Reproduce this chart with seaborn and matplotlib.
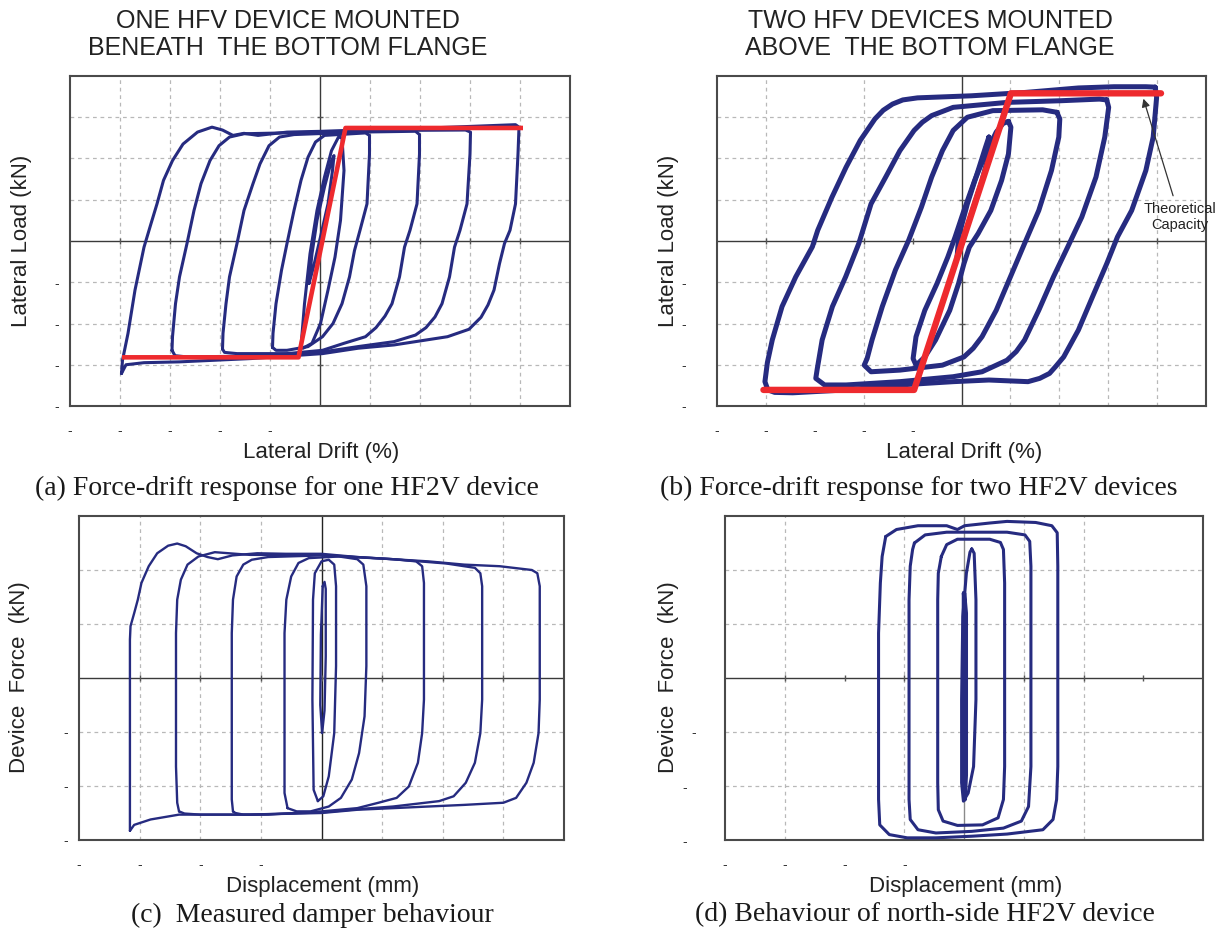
import matplotlib
matplotlib.use("Agg")
import matplotlib.pyplot as plt
import pandas as pd
import seaborn as sns

sns.set_theme(style="white")
plt.rcParams["font.family"] = ["Liberation Sans", "DejaVu Sans"]

NAVY = "#262b80"
RED = "#ee2a2e"
FRAME = "#4a4a4a"
GRID = "#b8b8b8"

# ---------------------------------------------------------------
# (a) one HF2V device: drift (%) vs lateral load (kN), per cycle
# ---------------------------------------------------------------
a_cycle4_x = [-3.97, -3.95, -3.84, -3.70, -3.52, -3.38, -3.26, -3.13, -2.95, -2.74, -2.45, -2.16, -1.95,
              -1.74, -1.52, -1.24, -0.66, 0.05, 0.76, 2.19, 3.91, 3.98, 3.96, 3.91, 3.80, 3.69, 3.59, 3.48,
              3.36, 3.22, 2.98, 2.55, 1.48, 0.76, 0.05, -1.38, -2.81, -3.52, -3.88, -3.97]
a_cycle4_y = [-3.21, -2.89, -2.24, -1.19, -0.15, 0.42, 0.90, 1.47, 1.95, 2.35, 2.64, 2.76, 2.69,
              2.56, 2.61, 2.56, 2.64, 2.66, 2.69, 2.74, 2.82, 2.76, 2.11, 0.90, 0.26, -0.06, -0.55, -1.19,
              -1.55, -1.85, -2.14, -2.32, -2.52, -2.60, -2.73, -2.85, -2.93, -2.95, -3.00, -3.21]
a_cycle3_x = [-2.96, -2.95, -2.89, -2.81, -2.66, -2.52, -2.38, -2.20, -2.02, -1.81, -1.52, 0.05, 1.48,
              2.91, 3.01, 3.00, 2.94, 2.80, 2.69, 2.59, 2.44, 2.30, 2.12, 1.91, 1.48, 0.76, 0.05, -1.38,
              -2.66, -2.90, -2.96]
a_cycle3_y = [-2.65, -2.32, -1.52, -0.87, -0.06, 0.74, 1.39, 1.95, 2.31, 2.52, 2.60, 2.64, 2.68,
              2.69, 2.64, 2.11, 0.90, 0.26, -0.15, -0.87, -1.52, -1.84, -2.10, -2.28, -2.44, -2.56, -2.69,
              -2.79, -2.81, -2.78, -2.65]
a_cycle2_x = [-1.95, -1.94, -1.88, -1.81, -1.66, -1.52, -1.34, -1.20, -1.02, -0.81, -0.52, 0.76, 1.91,
              1.99, 1.99, 1.94, 1.80, 1.69, 1.59, 1.44, 1.30, 1.12, 0.91, 0.48, 0.05, -0.66, -1.66, -1.91,
              -1.95]
a_cycle2_y = [-2.62, -2.24, -1.52, -0.87, -0.06, 0.74, 1.39, 1.87, 2.31, 2.52, 2.58, 2.64, 2.66,
              2.58, 2.11, 0.90, 0.26, -0.15, -0.87, -1.52, -1.82, -2.10, -2.32, -2.48, -2.65, -2.73, -2.73,
              -2.70, -2.62]
a_cycle1_x = [-0.95, -0.94, -0.88, -0.77, -0.66, -0.52, -0.38, -0.24, -0.09, 0.09, 0.91, 0.99, 0.99,
              0.94, 0.80, 0.69, 0.59, 0.44, 0.26, 0.05, -0.24, -0.66, -0.88, -0.95]
a_cycle1_y = [-2.58, -2.24, -1.52, -0.71, -0.06, 0.74, 1.47, 2.03, 2.40, 2.56, 2.62, 2.56, 2.11,
              0.90, 0.26, -0.23, -0.87, -1.52, -2.00, -2.32, -2.56, -2.65, -2.65, -2.58]
a_cycle_half_x = [-0.38, -0.31, -0.20, -0.06, 0.09, 0.23, 0.37, 0.44, 0.48, 0.41, 0.30, 0.16, 0.01,
                  -0.16, -0.34, -0.38]
a_cycle_half_y = [-2.56, -1.52, -0.31, 0.74, 1.55, 2.19, 2.52, 2.50, 1.71, 0.50, -0.39, -1.19, -2.00,
                  -2.48, -2.60, -2.56]
a_cycle_small_x = [-0.22, -0.16, -0.06, 0.09, 0.23, 0.28, 0.25, 0.16, 0.01, -0.13, -0.22]
a_cycle_small_y = [-1.03, -0.31, 0.50, 1.31, 1.95, 2.07, 1.71, 0.90, 0.10, -0.63, -1.03]
a_capacity_x = [-3.96, -0.43, 0.51, 4.06]
a_capacity_y = [-2.82, -2.82, 2.74, 2.74]

# ---------------------------------------------------------------
# (b) two HF2V devices: drift (%) vs lateral load (kN)
# ---------------------------------------------------------------
b_cycle4_x = [3.96, 3.99, 3.92, 3.77, 3.48, 3.19, 2.97, 2.68, 2.39, 2.09, 1.92, 1.80, 1.60, 1.36, 0.56,
              -0.17, -1.26, -2.36, -3.45, -3.82, -3.96, -4.02, -3.97, -3.87, -3.67, -3.39, -3.05, -2.94,
              -2.65, -2.36, -2.07, -1.77, -1.60, -1.41, -1.20, -0.90, 0.20, 1.29, 2.39, 3.12, 3.77, 3.96]
b_cycle4_y = [3.73, 3.48, 2.52, 1.71, 0.74, 0.10, -0.55, -1.35, -2.16, -2.81, -3.05, -3.21, -3.33, -3.41,
              -3.37, -3.41, -3.49, -3.61, -3.68, -3.67, -3.61, -3.41, -2.95, -2.40, -1.59, -0.87, -0.14,
              0.26, 1.06, 1.79, 2.44, 2.96, 3.17, 3.32, 3.42, 3.47, 3.52, 3.60, 3.71, 3.74, 3.74, 3.73]
b_cycle3_x = [2.97, 3.01, 2.93, 2.75, 2.46, 2.17, 1.88, 1.58, 1.29, 1.12, 0.93, 0.42, -0.17, -1.26,
              -2.36, -2.80, -2.98, -2.95, -2.85, -2.64, -2.37, -2.10, -1.85, -1.55, -1.26, -0.97, -0.80,
              -0.61, -0.17, 0.93, 2.02, 2.82, 2.97]
b_cycle3_y = [3.42, 3.24, 2.52, 1.55, 0.58, -0.15, -0.87, -1.68, -2.40, -2.68, -2.89, -3.17, -3.29, -3.41,
              -3.49, -3.49, -3.33, -3.10, -2.40, -1.59, -0.87, -0.06, 0.90, 1.55, 2.19, 2.68, 2.88,
              3.04, 3.24, 3.36, 3.40, 3.44, 3.42]
b_cycle2_x = [1.95, 2.01, 1.99, 1.84, 1.58, 1.29, 1.00, 0.71, 0.42, 0.24, 0.05, -0.39, -1.26, -1.85,
              -1.99, -1.93, -1.83, -1.62, -1.35, -1.08, -0.82, -0.61, -0.39, -0.17, 0.12, 0.64, 1.66, 1.95]
b_cycle2_y = [3.12, 2.96, 2.52, 1.71, 0.74, -0.06, -0.87, -1.68, -2.32, -2.60, -2.81, -3.01, -3.13, -3.17,
              -3.01, -2.85, -2.40, -1.59, -0.70, 0.02, 0.82, 1.55, 2.19, 2.68, 3.00, 3.16, 3.18, 3.12]
b_cycle1_x = [0.96, 1.01, 0.96, 0.82, 0.60, 0.34, 0.16, 0.05, -0.06, -0.24, -0.53, -0.75, -0.93, -0.99,
              -0.93, -0.75, -0.50, -0.28, -0.13, 0.05, 0.27, 0.49, 0.71, 0.85, 0.96]
b_cycle1_y = [2.90, 2.76, 2.11, 1.47, 0.74, 0.18, -0.15, -0.55, -1.03, -1.68, -2.40, -2.81, -3.01, -2.85,
              -2.32, -1.68, -1.03, -0.39, 0.10, 0.74, 1.47, 2.11, 2.64, 2.85, 2.90]
b_cycle_small_x = [0.56, 0.60, 0.42, 0.20, 0.01, -0.09, -0.06, 0.12, 0.34, 0.49, 0.56]
b_cycle_small_y = [2.52, 2.27, 1.47, 0.66, -0.06, -0.39, 0.10, 0.90, 1.71, 2.27, 2.52]
b_capacity_x = [-4.05, -0.97, 1.01, 4.08]
b_capacity_y = [-3.61, -3.61, 3.58, 3.58]

# ---------------------------------------------------------------
# (c) damper: displacement (mm) vs device force (kN)
# ---------------------------------------------------------------
c_cycle5_x = [-3.16, -3.16, -3.16, -3.16, -3.15, -3.09, -3.03, -2.97, -2.85, -2.71, -2.53, -2.38, -2.24,
              -2.06, -1.88, -1.71, -1.47, -1.06, -0.59, 0.00, 0.59, 1.18, 1.76, 2.35, 2.94, 3.47, 3.56,
              3.60, 3.60, 3.58, 3.50, 3.38, 3.21, 3.00, 2.35, 1.76, 1.18, 0.59, 0.00, -1.18, -2.35,
              -2.82, -3.09, -3.16]
c_cycle5_y = [-2.83, -2.25, -0.40, 0.71, 0.96, 1.20, 1.45, 1.76, 2.07, 2.31, 2.45, 2.49, 2.44,
              2.31, 2.24, 2.20, 2.27, 2.31, 2.30, 2.30, 2.24, 2.20, 2.16, 2.10, 2.07, 2.00, 1.94,
              1.70, -0.40, -1.02, -1.57, -1.94, -2.22, -2.31, -2.35, -2.38, -2.41, -2.44, -2.50, -2.53,
              -2.53, -2.62, -2.72, -2.83]
c_cycle4_x = [-2.35, -2.38, -2.40, -2.40, -2.38, -2.32, -2.21, -2.03, -1.76, -1.18, 0.00, 1.18, 2.06,
              2.53, 2.62, 2.65, 2.65, 2.62, 2.53, 2.38, 2.18, 1.94, 1.18, 0.59, 0.00, -1.18, -2.00,
              -2.26, -2.35]
c_cycle4_y = [-2.47, -2.31, -1.64, 0.83, 1.45, 1.82, 2.10, 2.25, 2.33, 2.28, 2.28, 2.20, 2.12,
              2.04, 1.94, 1.70, -0.40, -1.02, -1.57, -1.94, -2.19, -2.28, -2.38, -2.43, -2.49, -2.53, -2.53,
              -2.51, -2.47]
c_cycle3_x = [-1.46, -1.48, -1.48, -1.46, -1.40, -1.29, -1.15, -0.88, 0.00, 1.18, 1.56, 1.66, 1.69,
              1.69, 1.66, 1.59, 1.44, 1.24, 0.94, 0.59, 0.00, -0.88, -1.29, -1.42, -1.46]
c_cycle3_y = [-2.47, -2.25, 0.83, 1.45, 1.88, 2.10, 2.19, 2.24, 2.27, 2.20, 2.16, 2.07, 1.76,
              -0.40, -1.02, -1.57, -2.01, -2.22, -2.31, -2.41, -2.47, -2.53, -2.53, -2.50, -2.47]
c_cycle2_x = [-0.56, -0.61, -0.61, -0.58, -0.50, -0.38, -0.21, 0.29, 0.59, 0.69, 0.74, 0.74, 0.71,
              0.62, 0.50, 0.32, 0.12, -0.18, -0.41, -0.56]
c_cycle2_y = [-2.41, -2.13, 0.83, 1.45, 1.88, 2.13, 2.22, 2.25, 2.20, 2.10, 1.70, 0.22, -0.71,
              -1.39, -1.88, -2.22, -2.38, -2.47, -2.47, -2.41]
c_cycle1_x = [-0.06, -0.13, -0.15, -0.14, -0.11, 0.00, 0.12, 0.21, 0.24, 0.24, 0.21, 0.12, 0.03, -0.06]
c_cycle1_y = [-2.28, -2.07, -0.40, 1.45, 1.94, 2.16, 2.19, 2.10, 1.70, 0.22, -1.02, -1.82, -2.19, -2.28]
c_cycle0_x = [0.02, 0.05, 0.07, 0.07, 0.05, 0.01, -0.02, -0.01, 0.02]
c_cycle0_y = [1.70, 1.78, 1.65, 0.40, -0.60, -1.02, -0.50, 0.80, 1.70]

# ---------------------------------------------------------------
# (d) north-side device: displacement (mm) vs device force (kN)
# ---------------------------------------------------------------
d_cycle4_x = [-1.31, -1.13, -0.77, -0.29, -0.11, 0.01, 0.43, 0.72, 1.20, 1.47, 1.56, 1.57, 1.57,
              1.55, 1.49, 1.32, 0.72, 0.13, -0.47, -0.95, -1.25, -1.41, -1.43, -1.43, -1.40, -1.37, -1.31]
d_cycle4_y = [2.62, 2.75, 2.82, 2.82, 2.75, 2.82, 2.87, 2.90, 2.88, 2.82, 2.69, 2.07, -1.64,
              -2.25, -2.62, -2.81, -2.89, -2.93, -2.96, -2.96, -2.90, -2.72, -2.25, 0.83, 1.76, 2.25, 2.62]
d_cycle3_x = [-0.83, -0.65, -0.29, 0.13, 0.72, 1.02, 1.10, 1.12, 1.12, 1.08, 0.96, 0.66, 0.13,
              -0.47, -0.77, -0.90, -0.92, -0.92, -0.90, -0.86, -0.83]
d_cycle3_y = [2.50, 2.65, 2.70, 2.70, 2.70, 2.65, 2.53, 2.07, -1.64, -2.38, -2.65, -2.78, -2.84,
              -2.87, -2.81, -2.62, -2.25, 1.45, 2.07, 2.38, 2.50]
d_cycle2_x = [-0.38, -0.29, -0.11, 0.43, 0.61, 0.66, 0.68, 0.68, 0.66, 0.57, 0.31, -0.11, -0.35,
              -0.43, -0.44, -0.44, -0.43, -0.38]
d_cycle2_y = [2.25, 2.47, 2.57, 2.57, 2.51, 2.38, 1.76, -1.64, -2.25, -2.59, -2.72, -2.73, -2.65,
              -2.44, -1.94, 1.45, 1.94, 2.25]
d_cycle1_x = [0.13, 0.17, 0.20, 0.20, 0.16, 0.07, -0.01, -0.04, -0.04, -0.02, 0.04, 0.10, 0.13]
d_cycle1_y = [2.39, 2.31, 1.45, -0.40, -1.64, -2.13, -2.28, -1.94, -0.40, 1.14, 1.94, 2.33, 2.39]
d_cycle0_x = [0.00, 0.03, 0.03, 0.01, -0.01, 0.00]
d_cycle0_y = [1.57, 1.20, -1.80, -2.25, -1.00, 1.57]

# Axis ranges, grid positions and the (negative) tick positions of each panel
a_xlim, a_ylim = (-5, 5), (-4, 4)
c_xlim, c_ylim = (-4, 4), (-3, 3)
a_grid_x, a_grid_y = [-4, -3, -2, -1, 1, 2, 3, 4], [-3, -2, -1, 1, 2, 3]
b_grid_x, b_grid_y = [-4, -2, 1, 2, 3, 4], [-3, -2, -1, 1, 2, 3]
c_grid_x, c_grid_y = [-3, -2, -1, 1, 2, 3], [-2, -1, 1, 2]
d_grid_x, d_grid_y = [-3, -1, 1, 2], [-2, -1, 1, 2]
drift_ticks_x, drift_ticks_y = [-5, -4, -3, -2, -1], [-1, -2, -3, -4]
disp_ticks_x, disp_ticks_y = [-4, -3, -2, -1], [-1, -2, -3]


def cycles_frame(*pairs):
    rows = []
    for k, (xs, ys) in enumerate(pairs):
        for x, y in zip(xs, ys):
            rows.append({"x": x, "y": y, "cycle": k})
    return pd.DataFrame(rows)


def style_axes(ax, xlim, ylim, grid_x, grid_y, ticks_x, ticks_y, ypad, ylabels=None,
               vzero="#3a3a3a"):
    ax.set_xlim(*xlim)
    ax.set_ylim(*ylim)
    for gx in grid_x:
        ax.axvline(gx, color=GRID, lw=0.9, ls=(0, (3, 3)), zorder=0)
    for gy in grid_y:
        ax.axhline(gy, color=GRID, lw=0.9, ls=(0, (3, 3)), zorder=0)
    ax.axhline(0, color="#3a3a3a", lw=1.0, zorder=1)
    ax.axvline(0, color=vzero, lw=1.0, zorder=1)
    inner_x = list(range(int(xlim[0]) + 1, int(xlim[1])))
    inner_y = list(range(int(ylim[0]) + 1, int(ylim[1])))
    ax.plot(inner_x, [0] * len(inner_x), ls="none", marker="|", ms=5, color="#555555", mew=1.0, zorder=1)
    ax.plot([0] * len(inner_y), inner_y, ls="none", marker="_", ms=5, color="#555555", mew=1.0, zorder=1)
    ax.set_xticks(ticks_x, ["-"] * len(ticks_x))
    ax.set_yticks(ticks_y, ylabels if ylabels else ["-"] * len(ticks_y))
    ax.tick_params(axis="both", length=0, labelsize=10, colors="#333333")
    ax.tick_params(axis="x", pad=13)
    ax.tick_params(axis="y", pad=ypad)
    for s in ax.spines.values():
        s.set_visible(True)
        s.set_color(FRAME)
        s.set_linewidth(1.5)


def set_labels(ax, xlabel, ylabel, xpos, ypos):
    ax.set_xlabel(xlabel, fontsize=16, color="#222222")
    ax.set_ylabel(ylabel, fontsize=16, color="#222222")
    ax.xaxis.label.set_va("center")
    ax.yaxis.label.set_va("center")
    ax.xaxis.set_label_coords(*xpos)
    ax.yaxis.set_label_coords(*ypos)


W, H = 1220, 933
fig = plt.figure(figsize=(W / 100, H / 100), dpi=100)


def add_axes(left, top, right, bottom):
    return fig.add_axes([left / W, 1 - bottom / H, (right - left) / W, (bottom - top) / H])


ax_a = add_axes(70, 76, 570, 406)
ax_b = add_axes(717, 76, 1206, 406)
ax_c = add_axes(79, 516, 564, 840)
ax_d = add_axes(725, 516, 1203, 840)

# (a)
style_axes(ax_a, a_xlim, a_ylim, a_grid_x, a_grid_y, drift_ticks_x, drift_ticks_y, ypad=8)
df_a = cycles_frame((a_cycle4_x, a_cycle4_y), (a_cycle3_x, a_cycle3_y), (a_cycle2_x, a_cycle2_y),
                    (a_cycle1_x, a_cycle1_y), (a_cycle_half_x, a_cycle_half_y),
                    (a_cycle_small_x, a_cycle_small_y))
sns.lineplot(data=df_a, x="x", y="y", units="cycle", estimator=None, sort=False, color=NAVY,
             lw=2.2, solid_joinstyle="round", legend=False, ax=ax_a, zorder=3)
sns.lineplot(x=a_capacity_x, y=a_capacity_y, sort=False, estimator=None, color=RED, lw=3.3,
             solid_joinstyle="round", solid_capstyle="butt", ax=ax_a, zorder=4)
set_labels(ax_a, "Lateral Drift (%)", "Lateral Load (kN)", (0.502, -0.142), (-0.096, 0.5))

# (b)
style_axes(ax_b, a_xlim, a_ylim, b_grid_x, b_grid_y, drift_ticks_x, drift_ticks_y, ypad=22)
df_b = cycles_frame((b_cycle4_x, b_cycle4_y), (b_cycle3_x, b_cycle3_y), (b_cycle2_x, b_cycle2_y),
                    (b_cycle1_x, b_cycle1_y), (b_cycle_small_x, b_cycle_small_y))
sns.lineplot(data=df_b, x="x", y="y", units="cycle", estimator=None, sort=False, color=NAVY,
             lw=3.6, solid_joinstyle="round", legend=False, ax=ax_b, zorder=3)
sns.lineplot(x=b_capacity_x, y=b_capacity_y, sort=False, estimator=None, color=RED, lw=4.6,
             solid_joinstyle="round", solid_capstyle="round", ax=ax_b, zorder=4)
ax_b.annotate("Theoretical\nCapacity", xy=(3.72, 3.45), xytext=(4.46, 0.58), fontsize=10.5,
              ha="center", va="center", color="#222222", linespacing=1.25,
              arrowprops=dict(arrowstyle="-|>", color="#333333", lw=0.9, mutation_scale=12,
                              shrinkA=2, shrinkB=0),
              zorder=5)
set_labels(ax_b, "Lateral Drift (%)", "Lateral Load (kN)", (0.505, -0.142), (-0.100, 0.5))

# (c)
style_axes(ax_c, c_xlim, c_ylim, c_grid_x, c_grid_y, disp_ticks_x, disp_ticks_y, ypad=8,
           vzero="#222222")
df_c = cycles_frame((c_cycle5_x, c_cycle5_y), (c_cycle4_x, c_cycle4_y), (c_cycle3_x, c_cycle3_y),
                    (c_cycle2_x, c_cycle2_y), (c_cycle1_x, c_cycle1_y), (c_cycle0_x, c_cycle0_y))
sns.lineplot(data=df_c, x="x", y="y", units="cycle", estimator=None, sort=False, color=NAVY,
             lw=1.7, solid_joinstyle="round", legend=False, ax=ax_c, zorder=3)
set_labels(ax_c, "Displacement (mm)", "Device  Force  (kN)", (0.503, -0.142), (-0.122, 0.503))

# (d)
style_axes(ax_d, c_xlim, c_ylim, d_grid_x, d_grid_y, disp_ticks_x, disp_ticks_y, ypad=21,
           ylabels=["-", "-  ", "-  "], vzero="#8a8a8a")
df_d = cycles_frame((d_cycle4_x, d_cycle4_y), (d_cycle3_x, d_cycle3_y), (d_cycle2_x, d_cycle2_y),
                    (d_cycle1_x, d_cycle1_y))
sns.lineplot(data=df_d, x="x", y="y", units="cycle", estimator=None, sort=False, color=NAVY,
             lw=2.2, solid_joinstyle="round", legend=False, ax=ax_d, zorder=3)
sns.lineplot(x=d_cycle0_x, y=d_cycle0_y, sort=False, estimator=None, color=NAVY, lw=3.2,
             ax=ax_d, zorder=3)
set_labels(ax_d, "Displacement (mm)", "Device  Force  (kN)", (0.504, -0.142), (-0.119, 0.503))

# Panel headings and captions
fig.text(288 / W, 1 - 34.5 / H, "ONE HFV DEVICE MOUNTED\nBENEATH  THE BOTTOM FLANGE",
         ha="center", va="center", fontsize=18, linespacing=1.15, color="#222222")
fig.text(930 / W, 1 - 34.5 / H, "TWO HFV DEVICES MOUNTED\nABOVE  THE BOTTOM FLANGE",
         ha="center", va="center", fontsize=18, linespacing=1.15, color="#222222")

serif = ["Liberation Serif", "DejaVu Serif"]
fig.text(287 / W, 1 - 488 / H, "(a) Force-drift response for one HF2V device",
         ha="center", va="center", fontsize=20, family=serif, color="#1a1a1a")
fig.text(919 / W, 1 - 488 / H, "(b) Force-drift response for two HF2V devices",
         ha="center", va="center", fontsize=20, family=serif, color="#1a1a1a")
fig.text(312 / W, 1 - 915 / H, "(c)  Measured damper behaviour",
         ha="center", va="center", fontsize=20, family=serif, color="#1a1a1a")
fig.text(925 / W, 1 - 915 / H, "(d) Behaviour of north-side HF2V device",
         ha="center", va="center", fontsize=20, family=serif, color="#1a1a1a")

fig.savefig("out.png", dpi=100, facecolor="white")
